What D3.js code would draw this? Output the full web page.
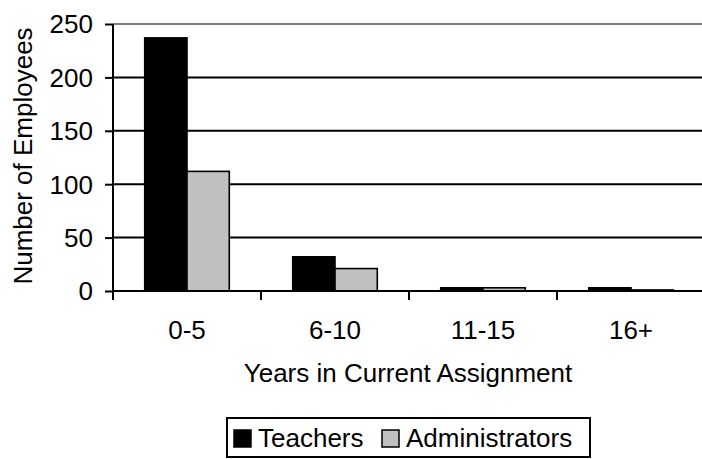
<!DOCTYPE html>
<html><head><meta charset="utf-8">
<script src="https://cdn.jsdelivr.net/npm/d3@7"></script>
<style>body{margin:0;background:#fff}svg{display:block}text{font-family:"Liberation Sans",Arial,sans-serif;fill:#000}</style>
</head><body>
<svg id="c" width="702" height="459"></svg>
<script>
const categories = ["0-5", "6-10", "11-15", "16+"];
const seriesNames = ["Teachers", "Administrators"];
const teachers = [237, 32, 3, 3];
const administrators = [112, 21, 3, 1];
const yTicks = [0, 50, 100, 150, 200, 250];
const colors = ["#000000", "#c0c0c0"];

const svg = d3.select("#c");
const L = 113, R = 705, T = 24, B = 291;
const FS = "26px";
const x = d3.scaleBand().domain(categories).range([L, R]).paddingInner(0).paddingOuter(0);
const x1 = d3.scaleBand().domain(seriesNames).range([0, x.bandwidth()]).paddingInner(0).paddingOuter(0.75);
const y = d3.scaleLinear().domain([0, 250]).range([B, T]);

// gridlines
svg.append("g").selectAll("line").data(yTicks.filter(d => d > 0)).join("line")
  .attr("x1", L).attr("x2", 702).attr("y1", d => y(d)).attr("y2", d => y(d))
  .attr("stroke", d => d === 250 ? "#808080" : "#000").attr("stroke-width", 2);

// bars
const data = categories.map((c, i) => ({c, vals: [teachers[i], administrators[i]]}));
const g = svg.append("g");
data.forEach(d => {
  d.vals.forEach((v, j) => {
    g.append("rect")
      .attr("x", x(d.c) + x1(seriesNames[j]))
      .attr("y", y(v))
      .attr("width", x1.bandwidth())
      .attr("height", B - y(v))
      .attr("fill", colors[j]).attr("stroke", "#000").attr("stroke-width", 1.6);
  });
});

// y axis
const yAxis = d3.axisLeft(y).tickValues(yTicks).tickSize(8).tickPadding(12);
const ya = svg.append("g").attr("transform", `translate(${L},0)`).call(yAxis);
ya.select(".domain").attr("stroke", "#000").attr("stroke-width", 2).attr("d", `M0,${T}V${B}`);
ya.selectAll(".tick line").attr("stroke", "#000").attr("stroke-width", 2);
ya.selectAll("text").style("font-size", FS).attr("font-family", null).attr("dy", "0.34em");

// x axis
const xa = svg.append("g").attr("transform", `translate(0,${B})`);
xa.append("line").attr("x1", L).attr("x2", 702).attr("y1", 0).attr("y2", 0).attr("stroke", "#000").attr("stroke-width", 2);
const bounds = categories.map(c => x(c)).concat([x(categories[categories.length-1]) + x.bandwidth()]);
xa.selectAll("line.tk").data(bounds.filter(b => b <= 702)).join("line").attr("class","tk")
  .attr("x1", d => d).attr("x2", d => d).attr("y1", 0).attr("y2", 9).attr("stroke", "#000").attr("stroke-width", 2);
xa.selectAll("text").data(categories).join("text")
  .attr("x", d => x(d) + x.bandwidth()/2).attr("y", 48)
  .attr("text-anchor", "middle").style("font-size", FS).text(d => d);

// titles
svg.append("text").attr("x", 408).attr("y", 382).attr("text-anchor", "middle").style("font-size", FS).text("Years in Current Assignment");
svg.append("text").attr("transform", "translate(32,156) rotate(-90)").attr("text-anchor", "middle").style("font-size", FS).text("Number of Employees");

// legend
const lg = svg.append("g");
lg.append("rect").attr("x", 227).attr("y", 418).attr("width", 363).attr("height", 39).attr("fill", "#fff").attr("stroke", "#000").attr("stroke-width", 2);
const lx = [234, 382];
seriesNames.forEach((s, i) => {
  lg.append("rect").attr("x", lx[i]).attr("y", 430).attr("width", 17).attr("height", 17).attr("fill", colors[i]).attr("stroke", "#000").attr("stroke-width", 1.5);
  lg.append("text").attr("x", lx[i] + 24).attr("y", 447).style("font-size", FS).text(s);
});
</script>
</body></html>
